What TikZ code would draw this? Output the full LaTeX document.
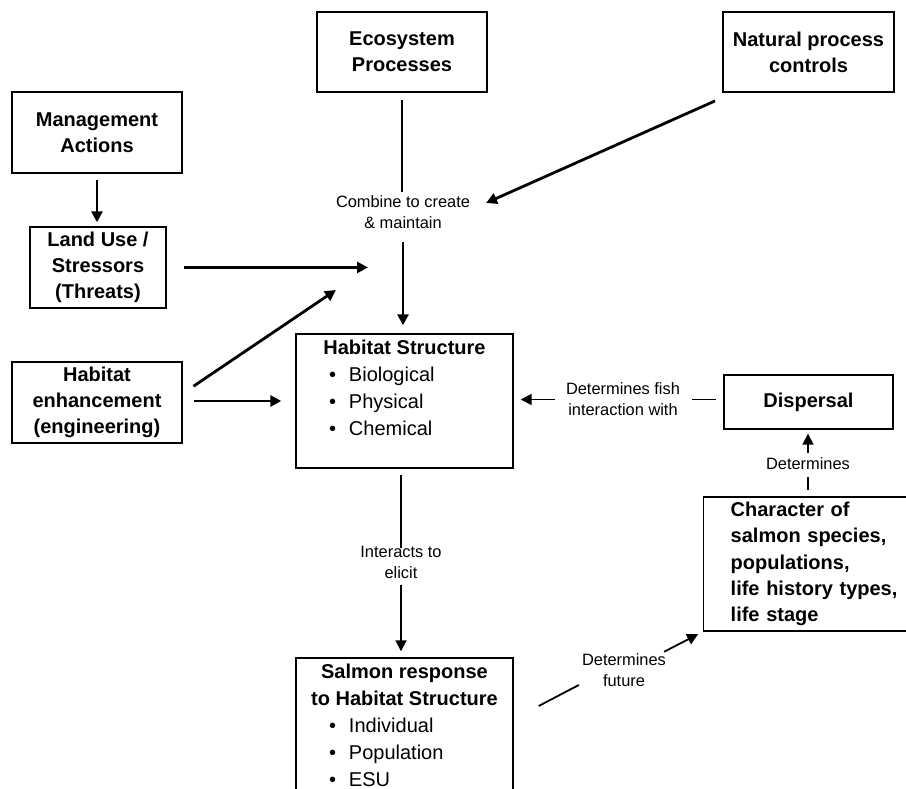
\documentclass[tikz,border=0pt]{standalone}
\usepackage{fontspec}
\setmainfont{Liberation Sans}
\usetikzlibrary{arrows.meta}

\newcommand{\hsitem}[1]{\makebox[53pt][r]{\textbullet\hspace{13pt}}#1}

\begin{document}
\begin{tikzpicture}[x=1pt,y=1pt,
    frame/.style={draw,line width=1.4pt,inner sep=0pt,font=\fontsize{20}{27}\selectfont},
    box/.style={frame,font=\fontsize{20}{26}\selectfont\bfseries,align=center},
    lbl/.style={font=\fontsize{16.4}{21}\selectfont,align=center,inner sep=2pt},
    thickline/.style={line width=2.8pt},
    thickarrow/.style={thickline,-{Triangle[length=11pt,width=11pt]}},
    thinline/.style={line width=1.8pt},
    thinarrow/.style={thinline,-{Triangle[length=11pt,width=11pt]}}]
    \useasboundingbox (0,0) rectangle (906,789);
    % TOP BOXES
    \node (eco) [box,minimum width=170pt,minimum height=80pt] at (402,737) {Ecosystem\\Processes};
    \node (natural) [box,minimum width=171pt,minimum height=80pt] at (808.5,737) {Natural process\\controls};
    \node (mgmt) [box,minimum width=170pt,minimum height=81pt] at (97,656.5) {Management\\Actions};
    \node (landuse) [box,minimum width=136pt,minimum height=81pt] at (98,521.5) {Land Use /\\Stressors\\(Threats)};
    \node (enhance) [box,minimum width=170pt,minimum height=81pt] at (97,386.5) {Habitat\\enhancement\\(engineering)};
    % HABITAT AND SALMON
    \node (habitat) [frame] at (404.5,388) {\parbox[c][134pt][t]{217pt}{\vspace*{6pt}\centering\bfseries Habitat Structure\par
        \raggedright\mdseries\hsitem{Biological}\par\hsitem{Physical}\par\hsitem{Chemical}\par}};
    \node (salmon) [frame] at (404.5,55.5) {\parbox[c][151pt][t]{217pt}{\vspace*{6pt}\centering\bfseries Salmon response\\to Habitat Structure\par
        \raggedright\mdseries\hsitem{Individual}\par\hsitem{Population}\par\hsitem{ESU}\par}};
    \node (dispersal) [box,minimum width=169pt,minimum height=54pt] at (808.5,387) {Dispersal};
    \node (character) [frame,font=\fontsize{20}{26.25}\selectfont\bfseries,anchor=west,align=left,text width=180pt,inner xsep=27pt,minimum height=134pt] at (703,225) {Character of\\salmon species,\\populations,\\life history types,\\life stage};
    % LABELS
    \node (combine) [lbl] at (403,576.5) {Combine to create\\\& maintain};
    \node (interacts) [lbl] at (401,226.5) {Interacts to\\elicit};
    \node (fishint) [lbl] at (623,389.5) {Determines fish\\interaction with};
    \node (dispdet) [lbl] at (808,325) {Determines};
    \node (future) [lbl] at (624,118.5) {Determines\\future};
    \coordinate (natin) at (486,586);
    \coordinate (luin) at (368,521.5);
    \coordinate (enhin) at (336,499);
    % INTO HABITAT STRUCTURE
    \draw [thickline,shorten <=7pt,shorten >=2pt] (eco.south) -- (eco.south |- combine.north);
    \draw [thickarrow,shorten <=11pt,shorten >=8pt] (combine.south) -- (combine.south |- habitat.north);
    \draw [thickarrow,shorten <=8pt] ([yshift=-5pt]natural.south west) -- (natin);
    \draw [thickarrow,shorten <=6pt,shorten >=4pt] (mgmt.south) -- (mgmt.south |- landuse.north);
    \draw [thickarrow,shorten <=17pt] (landuse.east) -- (luin);
    \draw [thickarrow,shorten <=13pt] ([yshift=9pt]enhance.east) -- (enhin);
    \draw [thickarrow,shorten <=11pt,shorten >=14pt] (enhance.east |- habitat.west) -- (habitat.west);
    % OUT OF HABITAT STRUCTURE
    \draw [thinline,shorten <=6pt,shorten >=-4pt] (interacts.north |- habitat.south) -- (interacts.north);
    \draw [thinarrow,shorten <=4pt,shorten >=6pt] (interacts.south) -- (interacts.south |- salmon.north);
    % DISPERSAL LOOP
    \draw [thinline,shorten <=7pt,shorten >=10pt] (dispersal.west |- fishint.east) -- (fishint.east);
    \draw [thinarrow,shorten <=9pt,shorten >=7pt] (fishint.west) -- (fishint.west -| habitat.east);
    \draw [thinline,shorten <=6pt,shorten >=5pt] (dispdet.south |- character.north) -- (dispdet.south);
    \draw [thinarrow,shorten <=3pt,shorten >=4pt] (dispdet.north) -- (dispdet.north |- dispersal.south);
    \draw [thinline] ([shift={(25,27.5)}]salmon.east) -- ([shift={(-1,-14.5)}]future.west);
    \draw [thinarrow,shorten >=5.5pt] ([xshift=-4pt]future.north east) -- (character.south west);
\end{tikzpicture}
\end{document}
